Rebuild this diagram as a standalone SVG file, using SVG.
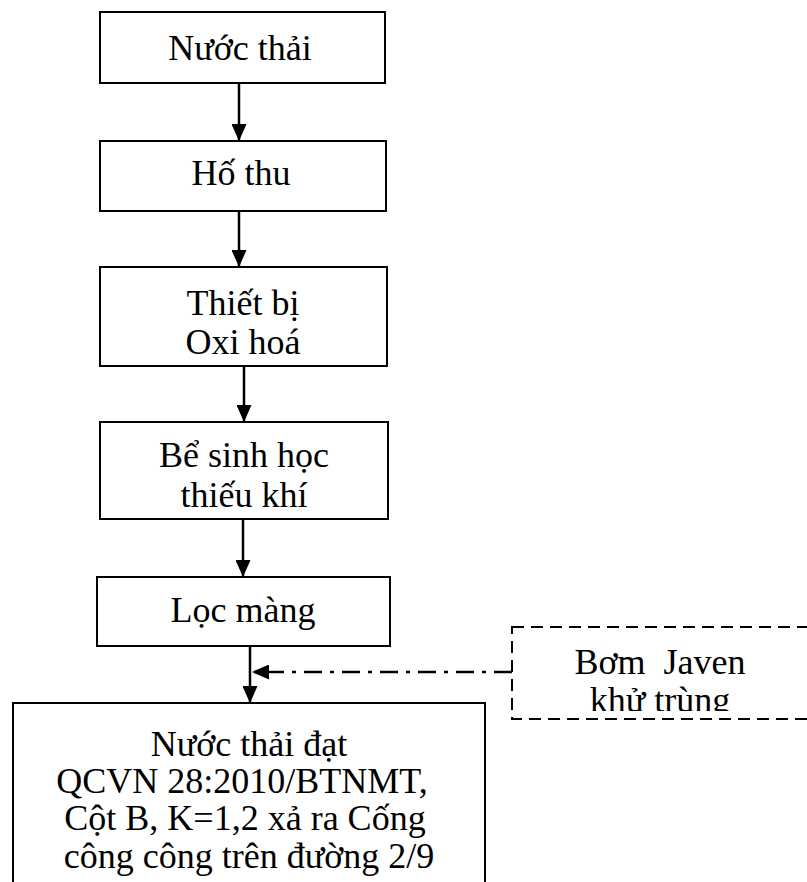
<svg xmlns="http://www.w3.org/2000/svg" width="807" height="882" viewBox="0 0 807 882">
<style>
.box{fill:#fff;stroke:#000;stroke-width:2}
.dbox{fill:#fff;stroke:#000;stroke-width:2;stroke-dasharray:12,7}
.t{font-family:"Liberation Serif","Times New Roman",serif;font-size:36px;fill:#000;text-anchor:middle}
.c{stroke:#000;stroke-width:2.5;fill:none}
.dd{stroke:#000;stroke-width:2.5;fill:none;stroke-dasharray:18,8,4,8}
</style>
<defs>
<marker id="ah" markerWidth="17" markerHeight="15" refX="17" refY="7.5" viewBox="0 0 17 15" markerUnits="userSpaceOnUse" orient="auto">
<path d="M0,0 L17,7.5 L0,15 Z" fill="#000"/>
</marker>
<clipPath id="jc"><rect x="512" y="627" width="295" height="84"/></clipPath>
</defs>
<rect width="807" height="882" fill="#fff"/>
<g id="connectors">
<line class="c" x1="239" y1="83" x2="239" y2="141" marker-end="url(#ah)"/>
<line class="c" x1="239" y1="211" x2="239" y2="267" marker-end="url(#ah)"/>
<line class="c" x1="244" y1="366" x2="244" y2="422" marker-end="url(#ah)"/>
<line class="c" x1="243" y1="519" x2="243" y2="577" marker-end="url(#ah)"/>
<line class="c" x1="250" y1="646" x2="250" y2="703" marker-end="url(#ah)"/>
<line class="dd" x1="512" y1="672" x2="252" y2="672" marker-end="url(#ah)"/>
</g>
<g id="n1"><rect class="box" x="100" y="12" width="285" height="71"/><text class="t" x="240" y="60">Nước thải</text></g>
<g id="n2"><rect class="box" x="100" y="141" width="286" height="70"/><text class="t" x="241" y="185">Hố thu</text></g>
<g id="n3"><rect class="box" x="100" y="267" width="287" height="99"/><text class="t" x="243" y="315">Thiết bị</text><text class="t" x="243" y="354">Oxi hoá</text></g>
<g id="n4"><rect class="box" x="100" y="422" width="288" height="97"/><text class="t" x="244" y="467">Bể sinh học</text><text class="t" x="244" y="507">thiếu khí</text></g>
<g id="n5"><rect class="box" x="97" y="577" width="293" height="69"/><text class="t" x="243" y="622">Lọc màng</text></g>
<g id="n6"><rect class="box" x="13" y="703" width="472" height="200"/>
<text class="t" x="249" y="756">Nước thải đạt</text>
<text class="t" x="242" y="793">QCVN 28:2010/BTNMT,</text>
<text class="t" x="245" y="830">Cột B, K=1,2 xả ra Cống</text>
<text class="t" x="249" y="868">công công trên đường 2/9</text>
</g>
<g id="n7"><rect class="dbox" x="512" y="627" width="320" height="92"/>
<g clip-path="url(#jc)"><text class="t" x="660" y="674" xml:space="preserve">Bơm  Javen</text><text class="t" x="660" y="712">khử trùng</text></g>
</g>
</svg>
